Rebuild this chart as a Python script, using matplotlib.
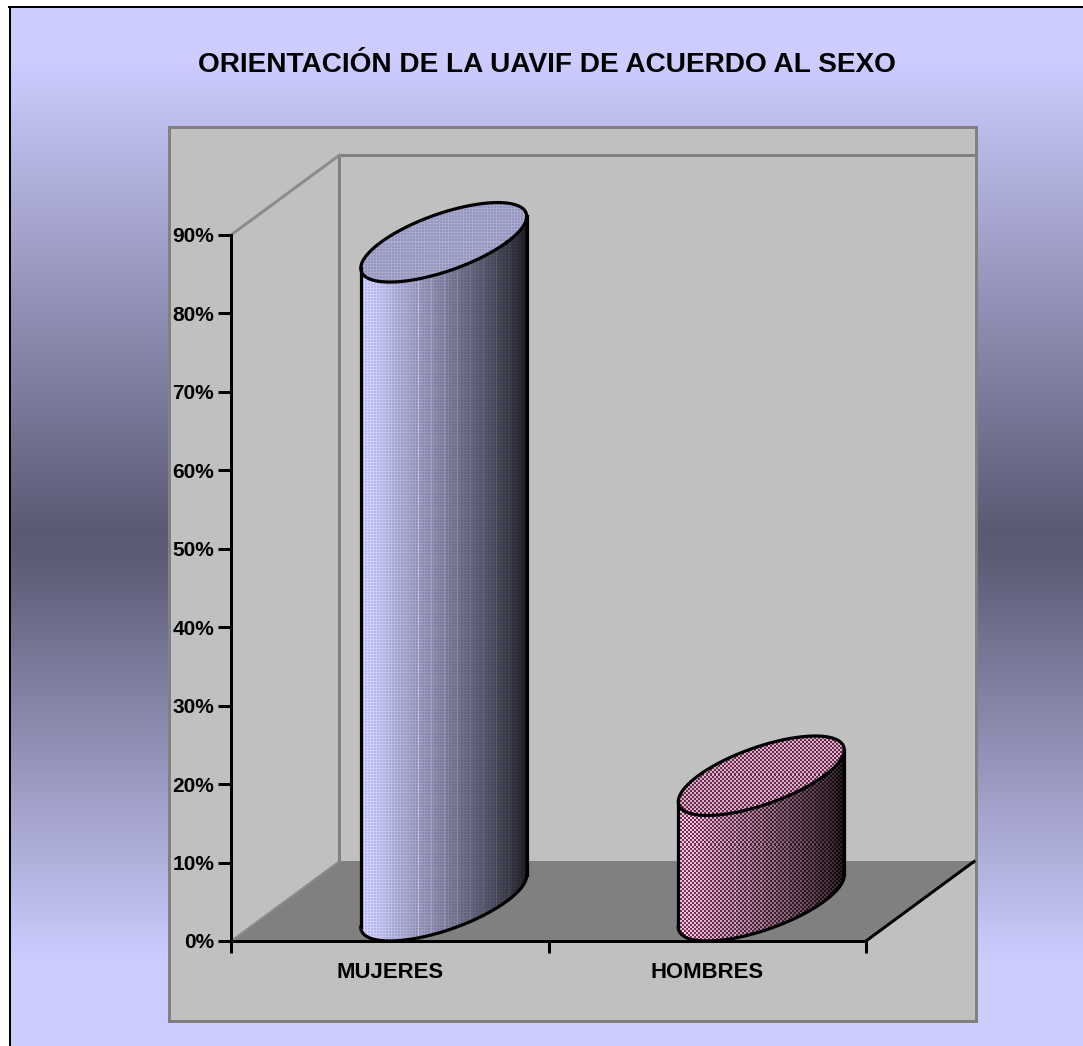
import numpy as np
import matplotlib
matplotlib.use("Agg")
import matplotlib.pyplot as plt
from matplotlib.patches import Polygon, Rectangle
from matplotlib.ticker import FixedLocator, FixedFormatter

# ---------- data ----------
title = "ORIENTACIÓN DE LA UAVIF DE ACUERDO AL SEXO"
categories = ["MUJERES", "HOMBRES"]
values = [84, 16]
yticks = [0, 10, 20, 30, 40, 50, 60, 70, 80, 90]

W, H = 1083, 1046
DPI = 100
px = 72 / DPI
plt.rcParams["font.family"] = ["Liberation Sans", "DejaVu Sans"]
plt.rcParams["font.weight"] = "bold"

fig = plt.figure(figsize=(W / DPI, H / DPI), dpi=DPI, facecolor="white")

# ---------- background layer in pixel coordinates ----------
bg = fig.add_axes([0, 0, 1, 1], zorder=0)
bg.set_xlim(0, W)
bg.set_ylim(H, 0)
bg.axis("off")
rows = np.arange(H)
stops_y = [0, 60, 530, 560, 960, 1046]
stops_c = [[204, 204, 255], [204, 204, 255], [90, 90, 116], [92, 92, 118],
           [204, 204, 255], [204, 204, 255]]
grad = np.stack([np.interp(rows, stops_y, [c[i] for c in stops_c]) for i in range(3)], axis=1)
grad = np.round(grad).astype(np.uint8)[:, None, :]
bg.imshow(grad, extent=(10, W, H, 0), aspect="auto", interpolation="nearest", zorder=1)
bg.set_xlim(0, W)
bg.set_ylim(H, 0)
bg.add_patch(Rectangle((0, 0), W, 6, fc="white", ec="none", zorder=1.5))
bg.add_patch(Rectangle((9, 6), 2, H - 6, fc="black", ec="none", zorder=2))
bg.add_patch(Rectangle((8, 6), W - 8, 2, fc="black", ec="none", zorder=2))
bg.add_patch(Rectangle((168.5, 126.5), 807, 894, fc="#C0C0C0", ec="#808080", lw=3 * px, zorder=2))
fig.text(547 / W, 1 - 72 / H, title, ha="center", va="baseline", fontsize=20.2,
         fontweight="bold", color="black", zorder=5)

# ---------- main axes: the front plane of the 3D box ----------
X0, X1, Y0, Y90 = 231, 866, 941, 235
ax = fig.add_axes([X0 / W, 1 - Y0 / H, (X1 - X0) / W, (Y0 - Y90) / H], zorder=1)
ax.patch.set_alpha(0)
ax.set_xlim(0, 2)
ax.set_ylim(0, 90)
ppx = (X1 - X0) / 2          # pixels per category
ppy = (Y0 - Y90) / 90        # pixels per percent
DX = 108 / ppx               # depth shift, x
DY = 79.5 / ppy              # depth shift, y

for s in ("top", "right"):
    ax.spines[s].set_visible(False)
for s in ("left", "bottom"):
    ax.spines[s].set_linewidth(3 * px)
    ax.spines[s].set_color("black")
ax.yaxis.set_major_locator(FixedLocator(yticks))
ax.yaxis.set_major_formatter(FixedFormatter([f"{v}%" for v in yticks]))
ax.tick_params(axis="y", length=13 * px, width=3 * px, pad=4 * px, labelsize=15)
ax.xaxis.set_major_locator(FixedLocator(range(len(categories) + 1)))
ax.xaxis.set_major_formatter(FixedFormatter([""] * (len(categories) + 1)))
ax.tick_params(axis="x", which="major", length=12 * px, width=3 * px)
ax.xaxis.set_minor_locator(FixedLocator([i + 0.5 for i in range(len(categories))]))
ax.xaxis.set_minor_formatter(FixedFormatter(categories))
ax.tick_params(axis="x", which="minor", length=0, pad=21 * px, labelsize=15.9)
for lab in ax.get_xticklabels(minor=True) + ax.get_yticklabels():
    lab.set_fontweight("bold")

xend = 2 + (976 - X1) / ppx
grey = "#808080"
# floor
ax.add_patch(Polygon([(0, 0), (2, 0), (2 + DX, DY), (DX, DY)], closed=True, fc=grey, ec="none",
                     clip_on=False, zorder=1))
ax.plot([0, DX], [0, DY], color="#8C8C8C", lw=2 * px, clip_on=False, zorder=1.2, solid_capstyle="butt")
ax.plot([DX, xend], [DY, DY], color=grey, lw=3 * px, clip_on=False, zorder=1.2, solid_capstyle="butt")
ax.plot([2, 2 + DX], [0, DY], color="black", lw=3 * px, clip_on=False, zorder=1.3)
# walls
ax.plot([DX, DX], [DY, 90 + DY], color=grey, lw=3 * px, clip_on=False, zorder=1.2, solid_capstyle="butt")
ax.plot([DX, xend], [90 + DY, 90 + DY], color=grey, lw=3 * px, clip_on=False, zorder=1.2, solid_capstyle="butt")
ax.plot([0, DX], [90, 90 + DY], color="#8C8C8C", lw=3 * px, clip_on=False, zorder=1.2)

# ---------- cylinders ----------
A = 63 / ppx        # half width of the base circle along the category axis
DEPTH_R = 0.5       # radius along depth


def ring(c, base, t):
    d = 0.5 + DEPTH_R * np.sin(t)
    return c + A * np.cos(t) + DX * d, base + DY * d


T0 = np.pi + np.arctan2(54, 63)
t_front = np.linspace(T0, T0 + np.pi, 160)
t_full = np.linspace(0, 2 * np.pi, 320)
HW = np.hypot(63, 54)


def blue_tex(g, yy, xx):
    light = np.array([212, 212, 255.0])
    dark = np.array([186, 186, 240.0])
    mask = ((xx % 3 == 0) | (yy % 3 == 0))[..., None]
    return (mask * light + (~mask) * dark) * g[..., None]


def pink_tex(g, yy, xx):
    a = np.array([238, 205, 224.0])
    b = np.array([128, 42, 92.0])
    mask = ((((xx // 2) + (yy // 2)) % 2) == 0)[..., None]
    return (mask * a + (~mask) * b) * g[..., None]


SHADE_U = [0, 0.08, 0.5, 0.8, 0.95, 1]
SHADE_G = [1.0, 0.98, 0.64, 0.38, 0.23, 0.10]


def side_image(tex, w, h):
    xx, yy = np.meshgrid(np.arange(w), np.arange(h))
    u = xx / (w - 1)
    q = np.round(u * 44) / 44
    g = np.interp(q, SHADE_U, SHADE_G)
    streak = (xx % 13 == 5) & (u > 0.3)
    g = g * np.where(streak, 1.18, 1.0)
    return np.clip(tex(g, yy, xx), 0, 255).astype(np.uint8)


def top_image(tex, w, h, factor):
    xx, yy = np.meshgrid(np.arange(w), np.arange(h))
    return np.clip(tex(np.full(xx.shape, factor), yy, xx), 0, 255).astype(np.uint8)


styles = [(blue_tex, 0.80), (pink_tex, 0.88)]
edge_lw = 3.2 * px
for i, (v, (tex, topf)) in enumerate(zip(values, styles)):
    c = i + 0.5
    x_f0, y_f0 = ring(c, 0, t_front)
    x_ft, y_ft = ring(c, v, t_front)
    xs = np.r_[x_ft, x_f0[::-1]]
    ys = np.r_[y_ft, y_f0[::-1]]
    clip = Polygon(np.c_[xs, ys], closed=True, transform=ax.transData, fc="none", ec="none")
    ax.add_patch(clip)
    clip.set_clip_on(False)
    left = c + DX / 2 - HW / ppx
    right = c + DX / 2 + HW / ppx
    top_val, bot_val = ys.max(), ys.min()
    w = int(round((right - left) * ppx))
    h = int(round((top_val - bot_val) * ppy))
    im = ax.imshow(side_image(tex, w, h), extent=(left, right, bot_val, top_val), origin="upper",
                   aspect="auto", interpolation="nearest", zorder=3)
    im.set_clip_box(fig.bbox)
    im.set_clip_path(clip)

    x_top, y_top = ring(c, v, t_full)
    cap = Polygon(np.c_[x_top, y_top], closed=True, transform=ax.transData, fc="none", ec="none")
    ax.add_patch(cap)
    cap.set_clip_on(False)
    ym, yM = y_top.min(), y_top.max()
    im2 = ax.imshow(top_image(tex, w, int(round((yM - ym) * ppy)), topf),
                    extent=(left, right, ym, yM), origin="upper",
                    aspect="auto", interpolation="nearest", zorder=3.1)
    im2.set_clip_box(fig.bbox)
    im2.set_clip_path(cap)

    ax.plot(x_top, y_top, color="black", lw=edge_lw, zorder=4, clip_on=False)
    ax.plot(x_f0, y_f0, color="black", lw=edge_lw, zorder=4, clip_on=False)
    ax.plot([x_f0[0], x_ft[0]], [y_f0[0], y_ft[0]], color="black", lw=edge_lw, zorder=4, clip_on=False)
    ax.plot([x_f0[-1], x_ft[-1]], [y_f0[-1], y_ft[-1]], color="black", lw=edge_lw, zorder=4, clip_on=False)

ax.set_xlim(0, 2)
ax.set_ylim(0, 90)
for s in ("left", "bottom"):
    ax.spines[s].set_zorder(2.5)

fig.savefig("out.png", dpi=DPI, facecolor="white")
